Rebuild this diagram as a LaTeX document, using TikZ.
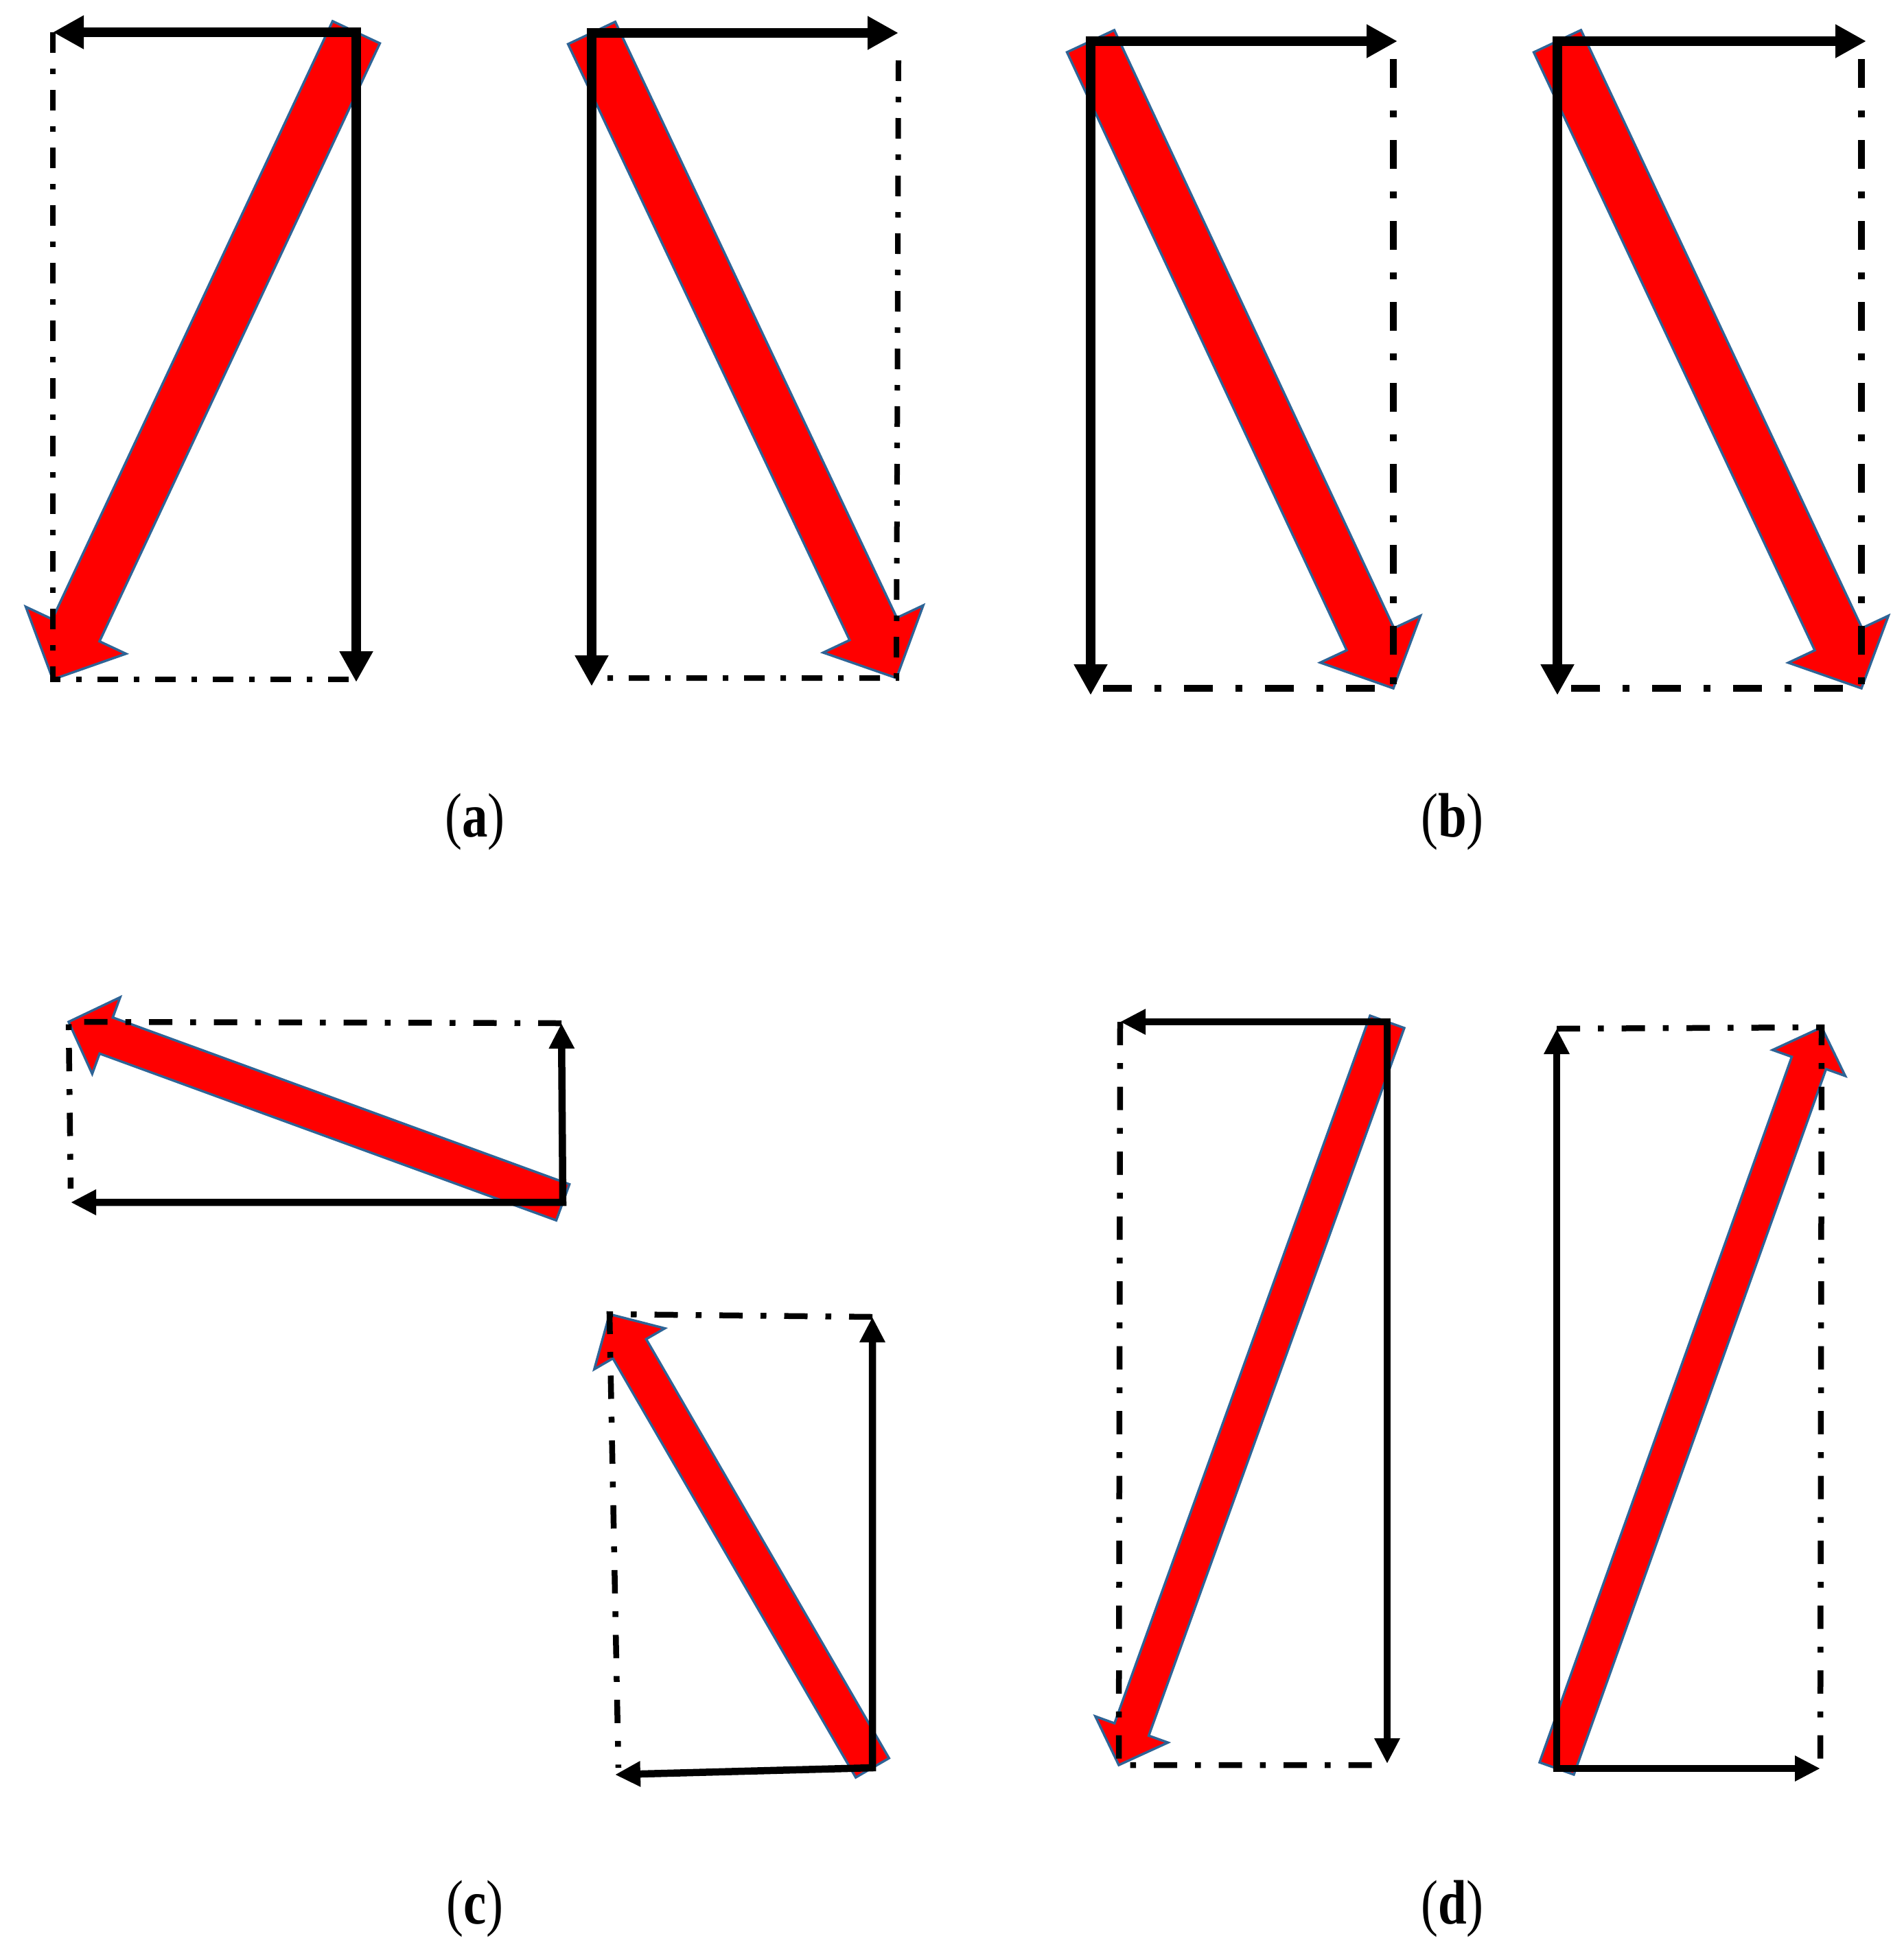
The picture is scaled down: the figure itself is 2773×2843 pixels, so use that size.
\documentclass[tikz,border=0pt]{standalone}
\usepackage{fontspec}
\setmainfont{Liberation Serif}
\newfontfamily\capfont[FakeStretch=0.82]{Liberation Serif}
\usetikzlibrary{arrows.meta,calc}
\definecolor{vecred}{RGB}{255,0,0}
\definecolor{vecedge}{RGB}{46,100,150}
\tikzset{
    %Define style for the resultant (red) vectors
    forcevec/.style={
           fill=vecred,
           draw=vecedge,
           line width=0.35mm,
           line join=miter},
    %Define style for the component arrows
    compline/.style={
           line width=1.35mm,
           {Triangle[width=4.6mm,length=4.5mm]}-{Triangle[width=4.6mm,length=4.5mm]}},
    compthin/.style={
           compline,
           line width=1.05mm,
           {Triangle[width=3.5mm,length=3.7mm]}-{Triangle[width=3.5mm,length=3.7mm]}},
    %Define style for the dash-dotted completion lines
    projline/.style={
           line width=0.8mm,
           dash pattern=on 3mm off 2.3mm on 0.8mm off 2.3mm},
    projwide/.style={
           line width=1mm,
           dash pattern=on 4.2mm off 3.3mm on 1mm off 3.3mm},
    projmid/.style={
           line width=0.85mm,
           dash pattern=on 3.4mm off 2.6mm on 0.85mm off 2.6mm},
    caption/.style={
           inner sep=0pt,
           font=\capfont\fontsize{26}{30}\selectfont}
}
% fat red arrow: [shaft width in px]{tail}{tip}
\newcommand{\forcearrow}[3][76]{%
  \pgfmathsetmacro{\fvsw}{#1*0.05}%
  \pgfmathsetmacro{\fvhw}{#1*0.106}%
  \pgfmathsetmacro{\fvhl}{#1*0.104}%
  \coordinate (fvB) at ($(#3)!\fvhl mm!(#2)$);
  \draw[forcevec] ($(#2)!\fvsw mm!90:(#3)$) -- ($(#2)!\fvsw mm!-90:(#3)$)
    -- ($(fvB)!\fvsw mm!90:(#2)$) -- ($(fvB)!\fvhw mm!90:(#2)$) -- (#3)
    -- ($(fvB)!\fvhw mm!-90:(#2)$) -- ($(fvB)!\fvsw mm!-90:(#2)$) -- cycle;
}

\begin{document}
\begin{tikzpicture}[x=0.1mm,y=-0.1mm]
\useasboundingbox (0,0) rectangle (2773,2843);
% (a)
\coordinate (a1O) at (519,47);   \coordinate (a1X) at (77,47);
\coordinate (a1Y) at (519,994);  \coordinate (a1R) at (77,990);
\coordinate (a2O) at (862,48);   \coordinate (a2X) at (1309,48);
\coordinate (a2Y) at (862,1000); \coordinate (a2R) at (1306,988);
% (b)
\coordinate (b1O) at (1589,60);  \coordinate (b1X) at (2036,60);
\coordinate (b1Y) at (1589,1013);\coordinate (b1R) at (2030,1003);
\coordinate (b2O) at (2269,60);  \coordinate (b2X) at (2719,60);
\coordinate (b2Y) at (2269,1013);\coordinate (b2R) at (2712,1003);
% (c)
\coordinate (c1O) at (820,1752); \coordinate (c1X) at (103,1752);
\coordinate (c1Y) at (818,1491); \coordinate (c1R) at (100,1489);
\coordinate (c2O) at (1271,2576);\coordinate (c2X) at (896,2586);
\coordinate (c2Y) at (1271,1919);\coordinate (c2R) at (888,1915);
% (d)
\coordinate (d1O) at (2021,1489);\coordinate (d1X) at (1632,1489);
\coordinate (d1Y) at (2021,2570);\coordinate (d1R) at (1630,2572);
\coordinate (d2O) at (2268,2577);\coordinate (d2X) at (2652,2577);
\coordinate (d2Y) at (2268,1499);\coordinate (d2R) at (2654,1497);

\forcearrow{a1O}{a1R}
\forcearrow{a2O}{a2R}
\forcearrow{b1O}{b1R}
\forcearrow{b2O}{b2R}
\forcearrow[56]{c1O}{c1R}
\forcearrow[56]{c2O}{c2R}
\forcearrow[53]{d1O}{d1R}
\forcearrow[53]{d2O}{d2R}

\draw[projline] (a1X) -- (a1R) -- (a1Y |- a1R);
\draw[projline] ($(a2X)+(0,40)$) -- (a2R) -- (a2Y |- a2R);
\draw[projwide] ($(b1R |- b1X)+(0,26)$) -- (b1R) -- (b1Y |- b1R);
\draw[projwide] ($(b2R |- b2X)+(0,26)$) -- (b2R) -- (b2Y |- b2R);
\draw[projmid] (c1Y) -- (c1R) -- ($(c1X)+(0,-20)$);
\draw[projmid] (c2Y) -- (c2R) -- ($(c2X)+(5,-10)$);
\draw[projmid] (d1X) -- (d1R) -- (d1Y |- d1R);
\draw[projmid] (d2Y) -- (d2R) -- (d2X);

\draw[compline] (a1X) -- (a1O) -- (a1Y);
\draw[compline] (a2X) -- (a2O) -- (a2Y);
\draw[compline] (b1X) -- (b1O) -- (b1Y);
\draw[compline] (b2X) -- (b2O) -- (b2Y);
\draw[compthin] (c1X) -- (c1O) -- (c1Y);
\draw[compthin] (c2X) -- (c2O) -- (c2Y);
\draw[compthin] (d1X) -- (d1O) -- (d1Y);
\draw[compthin] (d2X) -- (d2O) -- (d2Y);

\node[caption] (capA) at (692,1198) {(\textbf{a})};
\node[caption] (capB) at (2116,1198) {(\textbf{b})};
\node[caption] (capC) at (692,2781) {(\textbf{c})};
\node[caption] (capD) at (2116,2781) {(\textbf{d})};
\end{tikzpicture}
\end{document}
